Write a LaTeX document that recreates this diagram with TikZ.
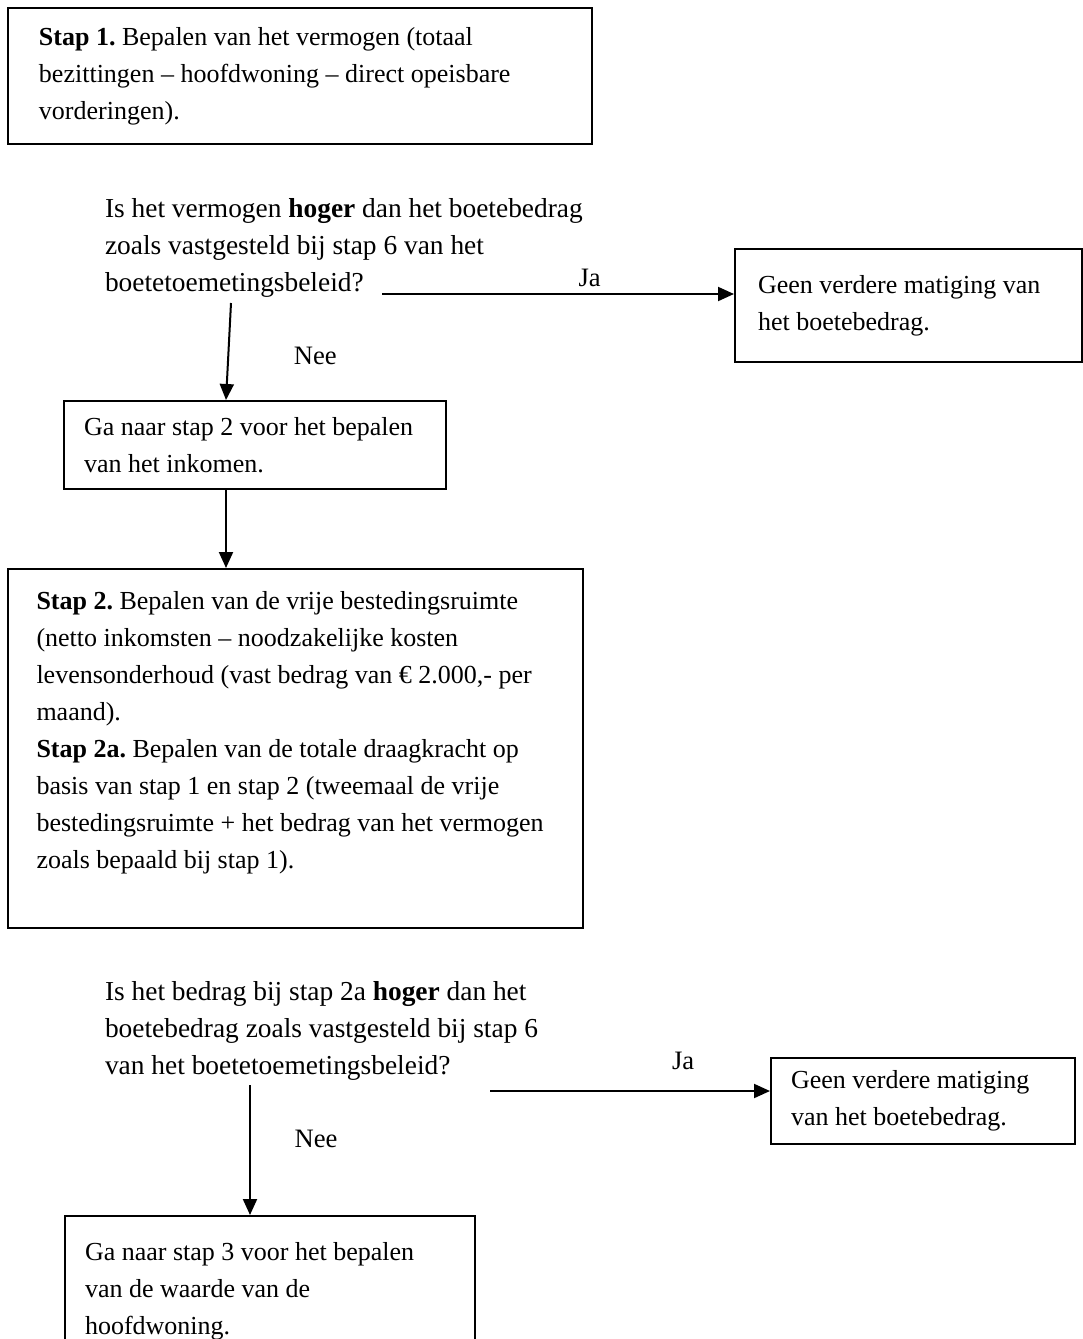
\documentclass[tikz,border=0pt]{standalone}
\usepackage{fontspec}
\setmainfont{Liberation Serif}
\usepackage{tikz}
\usetikzlibrary{arrows.meta, positioning, calc}
\frenchspacing

\begin{document}
\begin{tikzpicture}[
      x=0.5pt, y=-0.5pt,
      font=\fontsize{13.3}{18.5}\selectfont,
      blok/.style ={rectangle, draw, anchor=north west, align=flush left, inner ysep=0pt,
                    font=\fontsize{13}{18.5}\selectfont},
      vraag/.style={anchor=north west, align=flush left, inner sep=0pt, text width=280pt,
                    font=\fontsize{13.7}{18.5}\selectfont},
      line width=1pt,
      >={Triangle[length=8pt, width=7pt]}
    ]
    \useasboundingbox (0,0) rectangle (1082,1339);

    % Stap 1
    \node[blok, text width=261pt, inner xsep=15.5pt, minimum height=68pt] (stap1) at (7,7)
      {\textbf{Stap 1.} Bepalen van het vermogen (totaal\\
       bezittingen -- hoofdwoning -- direct opeisbare\\
       vorderingen).};

    % Eerste vraag
    \node[vraag] (vraag1) at (104,197)
      {Is het vermogen \textbf{hoger} dan het boetebedrag\\
       zoals vastgesteld bij stap 6 van het\\
       boetetoemetingsbeleid?};
    \node[blok, text width=150.5pt, inner xsep=11.5pt, minimum height=56.5pt] (ja1) at (734,248)
      {Geen verdere matiging van\\
       het boetebedrag.};
    \node[blok, text width=171pt, inner xsep=10pt, minimum height=44pt] (naar2) at (63,400)
      {Ga naar stap 2 voor het bepalen\\
       van het inkomen.};

    \coordinate (vr1uit)  at (382,294);
    \coordinate (vr1neer) at (231,303);
    \coordinate (as1)     at (226,0);

    % Ja / Nee bij vraag 1
    \draw[->] (vr1uit) -- node[pos=0.59, above] {Ja} (vr1uit -| ja1.west);
    \draw[->] (vr1neer) -- node[pos=0.55, right=29pt] {Nee} (naar2.north -| as1);

    % Stap 2 en 2a
    \node[blok, text width=259pt, inner xsep=14.25pt, minimum height=179.5pt] (stap2) at (7,568)
      {\textbf{Stap 2.} Bepalen van de vrije bestedingsruimte\\
       (netto inkomsten -- noodzakelijke kosten\\
       levensonderhoud (vast bedrag van € 2.000,- per\\
       maand).\\
       \textbf{Stap 2a.} Bepalen van de totale draagkracht op\\
       basis van stap 1 en stap 2 (tweemaal de vrije\\
       bestedingsruimte + het bedrag van het vermogen\\
       zoals bepaald bij stap 1).\\
       \mbox{}};
    \draw[->] (naar2.south -| as1) -- (stap2.north -| as1);

    % Tweede vraag
    \node[vraag] (vraag2) at (104,980)
      {Is het bedrag bij stap 2a \textbf{hoger} dan het\\
       boetebedrag zoals vastgesteld bij stap 6\\
       van het boetetoemetingsbeleid?};
    \node[blok, text width=132pt, inner xsep=10pt, minimum height=43pt] (ja2) at (770,1057)
      {Geen verdere matiging\\
       van het boetebedrag.};
    \node[blok, text width=185pt, inner xsep=10pt, minimum height=90.5pt] (naar3) at (64,1215)
      {Ga naar stap 3 voor het bepalen\\
       van de waarde van de\\
       hoofdwoning.\\
       \mbox{}};

    \coordinate (vr2uit)  at (490,1091);
    \coordinate (vr2neer) at (250,1085);

    % Ja / Nee bij vraag 2
    \draw[->] (vr2uit) -- node[pos=0.69, above=7pt] {Ja} (vr2uit -| ja2.west);
    \draw[->] (vr2neer) -- node[pos=0.415, right=18.5pt] {Nee} (naar3.north -| vr2neer);

  \end{tikzpicture}
\end{document}
